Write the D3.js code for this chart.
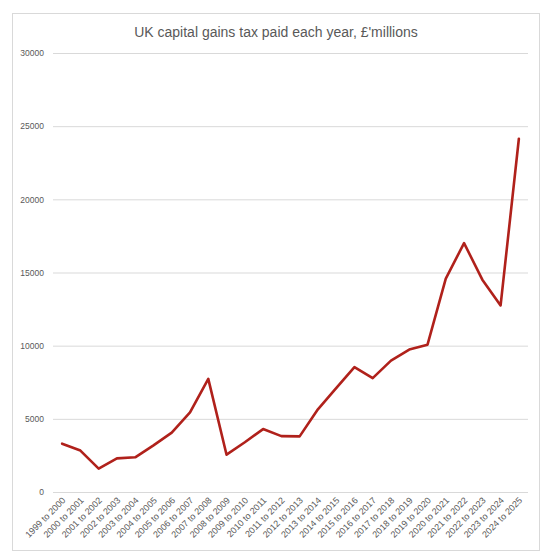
<!DOCTYPE html>
<html>
<head>
<meta charset="utf-8">
<script src="https://cdn.jsdelivr.net/npm/d3@7"></script>
<style>
  body { margin: 0; background: #fff; }
  text { font-family: "Liberation Sans", Arial, sans-serif; fill: #595959; }
</style>
</head>
<body>
<div id="chart"></div>
<script>
// Tax years shown along the bottom
var years = [
  "1999 to 2000", "2000 to 2001", "2001 to 2002", "2002 to 2003", "2003 to 2004",
  "2004 to 2005", "2005 to 2006", "2006 to 2007", "2007 to 2008", "2008 to 2009",
  "2009 to 2010", "2010 to 2011", "2011 to 2012", "2012 to 2013", "2013 to 2014",
  "2014 to 2015", "2015 to 2016", "2016 to 2017", "2017 to 2018", "2018 to 2019",
  "2019 to 2020", "2020 to 2021", "2021 to 2022", "2022 to 2023", "2023 to 2024",
  "2024 to 2025"
];

// CGT receipts, £ millions
var receipts = [
  3300, 2830, 1600, 2300, 2370, 3190, 4060, 5440, 7730, 2550,
  3400, 4300, 3820, 3800, 5650, 7100, 8540, 7780, 8980, 9730,
  10070, 14580, 17010, 14510, 12750, 24140
];

var yTicks = [0, 5000, 10000, 15000, 20000, 25000, 30000];

var width = 550;
var height = 558;

// plot area edges (note: "top" is taken by window.top, so prefix them)
var plotLeft = 53, plotRight = 528, plotTop = 53, plotBottom = 492;

var svg = d3.select("#chart")
  .append("svg")
  .attr("width", width)
  .attr("height", height);

// outer frame
svg.append("rect")
  .attr("x", 12.5)
  .attr("y", 13.5)
  .attr("width", 527)
  .attr("height", 537)
  .attr("fill", "#fff")
  .attr("stroke", "#d9d9d9")
  .attr("stroke-width", 1);

// title
svg.append("text")
  .attr("x", 276)
  .attr("y", 37)
  .attr("text-anchor", "middle")
  .attr("font-size", 14)
  .text("UK capital gains tax paid each year, \u00a3'millions");

var xScale = d3.scaleBand()
  .domain(years)
  .range([plotLeft, plotRight]);

var yScale = d3.scaleLinear()
  .domain([0, 30000])
  .range([plotBottom, plotTop]);

// gridlines + y labels
var yAxis = d3.axisLeft(yScale)
  .tickValues(yTicks)
  .tickSize(-(plotRight - plotLeft))
  .tickPadding(9)
  .tickFormat(d3.format("d"));

var yG = svg.append("g")
  .attr("transform", "translate(" + plotLeft + ",0)")
  .call(yAxis);
yG.select(".domain").remove();
yG.selectAll("line").attr("stroke", "#d9d9d9").attr("stroke-width", 1);
yG.selectAll("text").attr("font-size", 8.5).style("fill", "#595959");

// x axis labels, rotated
var xAxis = d3.axisBottom(xScale).tickSize(0).tickPadding(0);
var xG = svg.append("g")
  .attr("transform", "translate(0," + plotBottom + ")")
  .call(xAxis);
xG.select(".domain").remove();
xG.selectAll("text")
  .attr("font-size", 9)
  .style("fill", "#595959")
  .attr("text-anchor", "end")
  .attr("dy", "0")
  .attr("y", 0)
  .attr("transform", "translate(4,9) rotate(-45)");

// the line
var line = d3.line()
  .x(function(d, i) { return xScale(years[i]) + xScale.bandwidth() / 2; })
  .y(function(d) { return yScale(d); });

svg.append("path")
  .datum(receipts)
  .attr("d", line)
  .attr("fill", "none")
  .attr("stroke", "#b0211b")
  .attr("stroke-width", 2.6)
  .attr("stroke-linejoin", "round")
  .attr("stroke-linecap", "round");
</script>
</body>
</html>
